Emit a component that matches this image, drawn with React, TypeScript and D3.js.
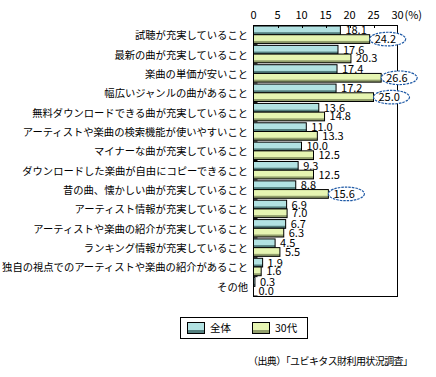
import React from "react";
import * as d3 from "d3";

const categories = [
  "試聴が充実していること",
  "最新の曲が充実していること",
  "楽曲の単価が安いこと",
  "幅広いジャンルの曲があること",
  "無料ダウンロードできる曲が充実していること",
  "アーティストや楽曲の検索機能が使いやすいこと",
  "マイナーな曲が充実していること",
  "ダウンロードした楽曲が自由にコピーできること",
  "昔の曲、懐かしい曲が充実していること",
  "アーティスト情報が充実していること",
  "アーティストや楽曲の紹介が充実していること",
  "ランキング情報が充実していること",
  "独自の視点でのアーティストや楽曲の紹介があること",
  "その他",
];
const allValues = [18.1, 17.6, 17.4, 17.2, 13.6, 11.0, 10.0, 9.3, 8.8, 6.9, 6.7, 4.5, 1.9, 0.3];
const thirtiesValues = [24.2, 20.3, 26.6, 25.0, 14.8, 13.3, 12.5, 12.5, 15.6, 7.0, 6.3, 5.5, 1.6, 0.0];
const highlighted = [0, 2, 3, 8];
const xTicks = [0, 5, 10, 15, 20, 25, 30];
const seriesNames = ["全体", "30代"];
const sourceText = "（出典）「ユビキタス財利用状況調査」";

const FONT = "'Noto Sans CJK JP', 'Noto Sans', sans-serif";
const colors = [
  { fill: "#b2e2e2", dark: "#55807f" },
  { fill: "#e6f5b2", dark: "#929f6c" },
];

export default function App() {
  const x = d3.scaleLinear().domain([0, 30]).range([253.5, 397.5]);
  const y = d3.scaleBand<string>().domain(categories).range([25.5, 296.5]).paddingInner(0);
  const bw = y.bandwidth();
  const barH = bw * 0.45;
  const fmt = d3.format(".1f");

  const rows = categories.map((c, i) => ({
    c,
    i,
    y0: (y(c) as number) + 0.5,
    vals: [allValues[i], thirtiesValues[i]],
  }));

  return (
    <svg
      width={436}
      height={377}
      style={{ position: "absolute", left: 0, top: 0, background: "#fff" }}
      fontFamily={FONT}
    >
      {/* x tick labels */}
      {xTicks.map((t) => (
        <text key={t} x={x(t)} y={19} fontSize={11} textAnchor="middle" fill="#000">
          {t}
        </text>
      ))}
      <text x={x(30) + 7} y={19} fontSize={11} textAnchor="start" fill="#000">
        (%)
      </text>

      {/* bars */}
      {rows.map(({ c, y0, vals }) => (
        <g key={c}>
          {vals.map((v, s) => {
            const by = y0 + s * barH;
            const w = x(v) - x(0);
            if (w <= 0) return null;
            return (
              <g key={s}>
                <rect x={x(0)} y={by} width={w} height={barH} fill={colors[s].fill} />
                <rect x={x(0)} y={by + barH - 2.5} width={w} height={2.5} fill={colors[s].dark} />
                <rect x={x(0)} y={by} width={w} height={barH} fill="none" stroke="#000" strokeWidth={1} />
              </g>
            );
          })}
          <text x={248} y={y0 + bw / 2 + 3.5} fontSize={10.3} textAnchor="end" fill="#000">
            {c}
          </text>
          <line x1={x(0)} x2={x(0) + 4} y1={y0 + bw - 1} y2={y0 + bw - 1} stroke="#000" />
        </g>
      ))}

      {/* plot box */}
      <rect x={x(0)} y={25.5} width={x(30) - x(0)} height={271} fill="none" stroke="#000" strokeWidth={1} />
      {xTicks.slice(1, -1).map((t) => (
        <line key={t} x1={Math.round(x(t)) + 0.5} x2={Math.round(x(t)) + 0.5} y1={25} y2={28} stroke="#000" />
      ))}

      {/* value labels and highlight ellipses */}
      {rows.map(({ c, i, y0, vals }) => (
        <g key={c + "-lab"}>
          {vals.map((v, s) => {
            const by = y0 + s * barH;
            return (
              <g key={s}>
                {s === 1 && highlighted.includes(i) && (
                  <ellipse
                    cx={x(v) + 18}
                    cy={by + barH / 2}
                    rx={18}
                    ry={6.8}
                    fill="#fff"
                    stroke="#1f5aa6"
                    strokeWidth={1.2}
                    strokeDasharray="2.5,1"
                  />
                )}
                <text x={x(v) + 5} y={by + barH / 2 + 4} fontSize={11} fill="#000">
                  {fmt(v)}
                </text>
              </g>
            );
          })}
        </g>
      ))}

      {/* legend */}
      <rect x={180.5} y={317.5} width={127} height={21} fill="#fff" stroke="#000" />
      {seriesNames.map((n, s) => {
        const lx = s === 0 ? 187 : 252;
        return (
          <g key={n}>
            <rect x={lx} y={322} width={17} height={11} fill={colors[s].fill} />
            <rect x={lx} y={330} width={17} height={3} fill={colors[s].dark} />
            <rect x={lx + 0.5} y={322.5} width={17} height={11} fill="none" stroke="#000" />
            <text x={lx + 23} y={332} fontSize={10.5} fill="#000">
              {n}
            </text>
          </g>
        );
      })}

      <text x={413} y={365} fontSize={10} textAnchor="end" fill="#000" textLength={165}>
        {sourceText}
      </text>
    </svg>
  );
}
